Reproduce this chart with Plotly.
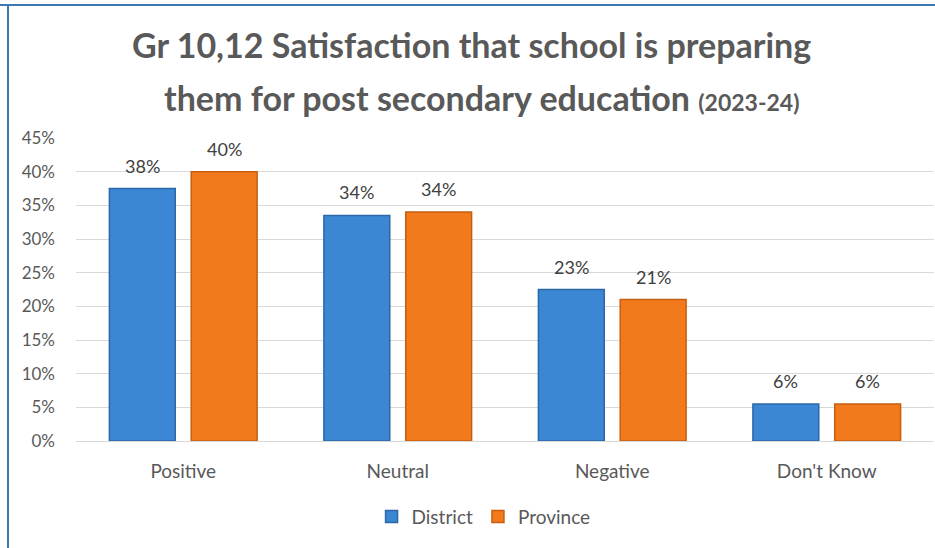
import plotly.graph_objects as go

categories = ["Positive", "Neutral", "Negative", "Don't Know"]
district = [0.375, 0.335, 0.225, 0.055]
province = [0.40, 0.34, 0.21, 0.055]
district_labels = ["38%", "34%", "23%", "6%"]
province_labels = ["40%", "34%", "21%", "6%"]
y_ticks = [0, 0.05, 0.10, 0.15, 0.20, 0.25, 0.30, 0.35, 0.40, 0.45]
y_tick_text = ["0%", "5%", "10%", "15%", "20%", "25%", "30%", "35%", "40%", "45%"]

FONT = "Lato"
GREY = "#595959"

fig = go.Figure()
fig.add_trace(go.Bar(
    name="District", x=categories, y=district,
    marker=dict(color="#3b87d4", line=dict(color="#2c68a8", width=1.5)),
))
fig.add_trace(go.Bar(
    name="Province", x=categories, y=province,
    marker=dict(color="#f27a1c", line=dict(color="#c65e10", width=1.5)),
))

annotations = []
for cat, v, lab in zip(categories, district, district_labels):
    annotations.append(dict(x=cat, y=v, text=lab, xshift=-41, yshift=10, yanchor="bottom",
                            showarrow=False, font=dict(family=FONT, size=18, color="#404040")))
for cat, v, lab in zip(categories, province, province_labels):
    annotations.append(dict(x=cat, y=v, text=lab, xshift=41, yshift=10, yanchor="bottom",
                            showarrow=False, font=dict(family=FONT, size=18, color="#404040")))

annotations += [
    dict(text="<b>Gr 10,12 Satisfaction that school is preparing</b>",
         xref="paper", yref="paper", x=(471 - 76) / 858, y=1 + (138 - 45) / 303,
         xanchor="center", yanchor="middle", showarrow=False,
         font=dict(family=FONT, size=34, color=GREY)),
    dict(text="<b>them for post secondary education <span style='font-size:23px'>(2023-24)</span></b>",
         xref="paper", yref="paper", x=(482 - 76) / 858, y=1 + (138 - 97) / 303,
         xanchor="center", yanchor="middle", showarrow=False,
         font=dict(family=FONT, size=34, color=GREY)),
]

fig.update_layout(
    width=935, height=548,
    margin=dict(l=76, r=1, t=138, b=107),
    paper_bgcolor="white", plot_bgcolor="white",
    barmode="group", bargap=0.237, bargroupgap=0.195,
    font=dict(family=FONT, color=GREY, size=18),
    showlegend=True,
    legend=dict(orientation="h", x=0.475, xanchor="center", y=-0.25, yanchor="middle",
                font=dict(family=FONT, size=19, color=GREY), itemwidth=30,
                traceorder="normal"),
    xaxis=dict(showgrid=False, showline=False, ticks="",
               tickfont=dict(family=FONT, size=19, color=GREY), ticklabelstandoff=17),
    yaxis=dict(range=[0, 0.45], tickvals=y_ticks, ticktext=y_tick_text,
               showgrid=True, gridcolor="#d9d9d9", gridwidth=1,
               zeroline=True, zerolinecolor="#d9d9d9", zerolinewidth=1,
               showline=False, ticks="",
               tickfont=dict(family=FONT, size=17, color=GREY), ticklabelstandoff=20),
    annotations=annotations,
    shapes=[
        dict(type="line", xref="paper", yref="paper",
             x0=-76 / 858, x1=1 + 1 / 858, y0=1 + (138 - 5) / 303, y1=1 + (138 - 5) / 303,
             line=dict(color="#3b78b0", width=2)),
        dict(type="line", xref="paper", yref="paper",
             x0=-68 / 858, x1=-68 / 858, y0=1 + (138 - 5) / 303, y1=-107 / 303,
             line=dict(color="#3b78b0", width=2)),
    ],
)

fig.write_html("out.html")
